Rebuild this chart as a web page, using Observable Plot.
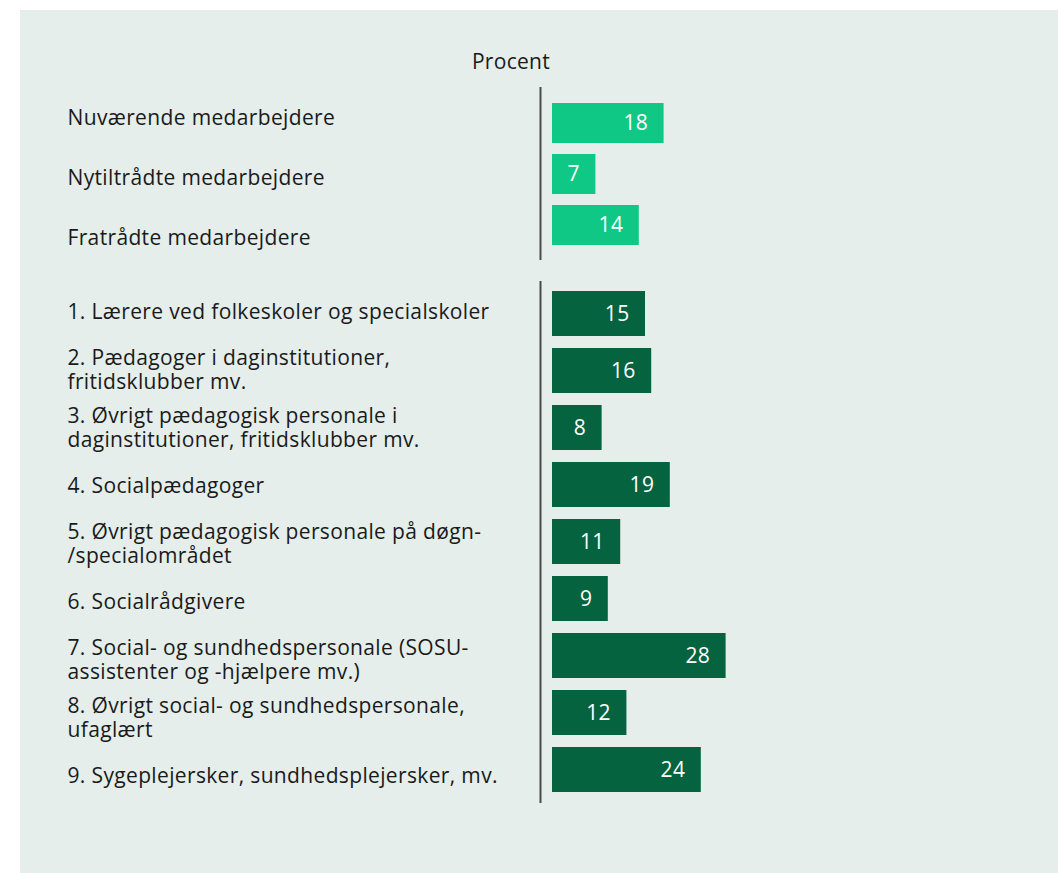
<!DOCTYPE html>
<html>
<head>
<meta charset="utf-8">
<script src="https://cdn.jsdelivr.net/npm/d3@7"></script>
<script src="https://cdn.jsdelivr.net/npm/@observablehq/plot@0.6"></script>
<style>
  html, body { margin: 0; padding: 0; background: #ffffff; }
  #panel {
    position: absolute; left: 20px; top: 10px; width: 1038px; height: 863px;
    background: #e5eeeb; font-family: "Open Sans", Lato, sans-serif; color: #1a1a1a;
  }
  #title {
    position: absolute; left: 431px; top: 38px; width: 120px; text-align: center;
    font-size: 21px; line-height: 26px; letter-spacing: 0.3px;
  }
  .chart { position: relative; }
  .chart svg { display: block; }
  .chart svg + svg { position: absolute; left: 0; top: 0; }
  .chart text { letter-spacing: 0.35px; }
</style>
</head>
<body>
<div id="panel">
  <div id="title">Procent</div>
  <div id="chart1" class="chart"></div>
  <div id="chart2" class="chart"></div>
</div>
<script>
const groupA = ["Nuværende medarbejdere", "Nytiltrådte medarbejdere", "Fratrådte medarbejdere"];
const valuesA = [18, 7, 14];

const groupB = [
  "1. Lærere ved folkeskoler og specialskoler",
  "2. Pædagoger i daginstitutioner,\nfritidsklubber mv.",
  "3. Øvrigt pædagogisk personale i\ndaginstitutioner, fritidsklubber mv.",
  "4. Socialpædagoger",
  "5. Øvrigt pædagogisk personale på døgn-\n/specialområdet",
  "6. Socialrådgivere",
  "7. Social- og sundhedspersonale (SOSU-\nassistenter og -hjælpere mv.)",
  "8. Øvrigt social- og sundhedspersonale,\nufaglært",
  "9. Sygeplejersker, sundhedsplejersker, mv."
];
const valuesB = [15, 16, 8, 19, 11, 9, 28, 12, 24];

const colorA = "#0fc886";
const colorB = "#066340";
const FONT = "'Open Sans', Lato, sans-serif";

function base(height, marginTop, marginBottom) {
  return {
    width: 1038,
    height,
    marginLeft: 532,
    marginRight: 10,
    marginTop,
    marginBottom,
    style: {background: "transparent", fontFamily: FONT, fontSize: "21px", color: "#1a1a1a"},
    x: {domain: [0, 80], axis: null}
  };
}

function makeChart(el, cats, vals, color, opts) {
  const data = cats.map((c, i) => ({cat: c, value: vals[i]}));
  const bars = Plot.plot({
    ...base(opts.height, opts.marginTop, opts.marginBottom),
    y: {domain: cats, axis: null, paddingInner: opts.pi, paddingOuter: opts.po},
    marks: [
      Plot.barX(data, {x: "value", y: "cat", fill: color}),
      Plot.ruleX([0], {dx: -12, stroke: "#4a4a4a", strokeWidth: 2}),
      Plot.text(data, {x: "value", y: "cat", text: d => String(d.value), textAnchor: "end", dx: -16, fill: "white", fontSize: 21})
    ]
  });
  const labels = Plot.plot({
    ...base(opts.lheight, opts.marginTop, opts.lmarginBottom),
    y: {domain: cats, axis: null, paddingInner: opts.lpi, paddingOuter: opts.lpo},
    marks: [
      Plot.text(data, {y: "cat", text: "cat", frameAnchor: "left", textAnchor: "start", dx: -485, fill: "#1a1a1a", fontSize: 21, lineHeight: 1.15})
    ]
  });
  el.append(bars, labels);
}

makeChart(document.getElementById("chart1"), groupA, valuesA, colorA,
  {height: 260, marginTop: 77, marginBottom: 10, pi: 0.216, po: 0.304,
   lheight: 262, lmarginBottom: 5, lpi: 0, lpo: 0});
makeChart(document.getElementById("chart2"), groupB, valuesB, colorB,
  {height: 603, marginTop: 11, marginBottom: 70, pi: 0.203, po: 0.17,
   lheight: 603, lmarginBottom: 68, lpi: 0.203, lpo: 0.17});
</script>
</body>
</html>
